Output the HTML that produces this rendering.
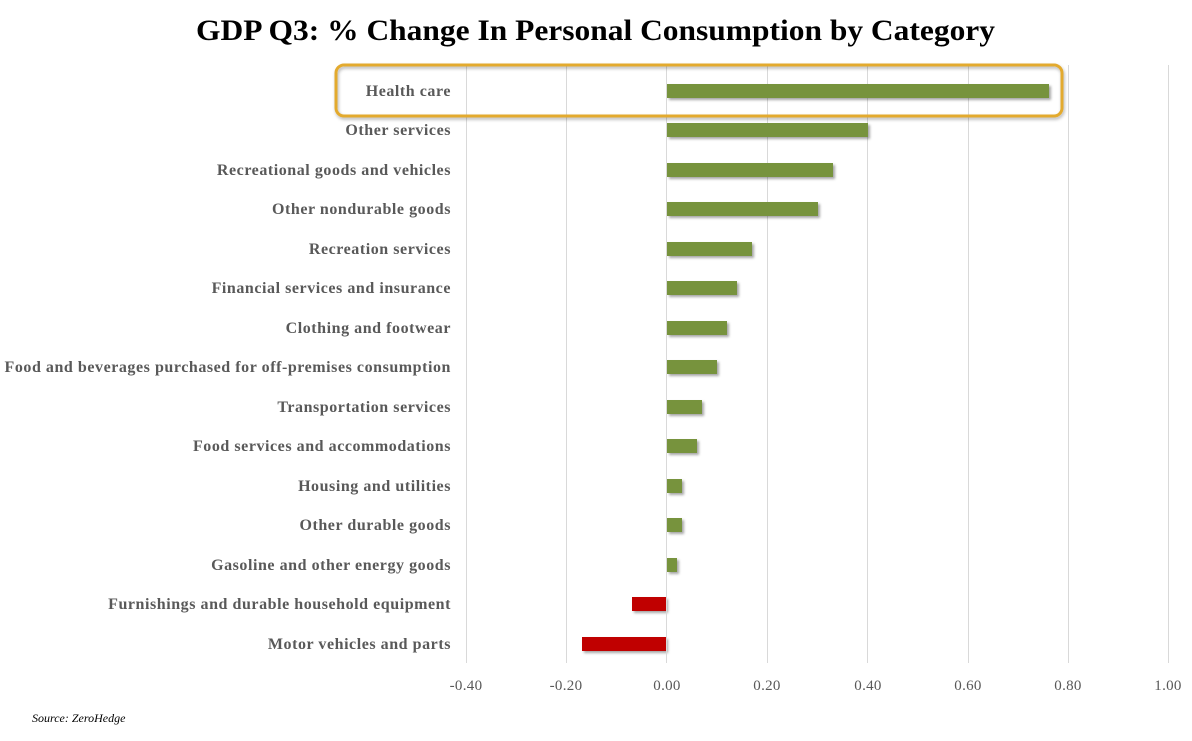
<!DOCTYPE html>
<html><head><meta charset="utf-8"><style>
html,body{margin:0;padding:0;background:#fff;width:1192px;height:741px;overflow:hidden}
text{font-family:"Liberation Serif",serif}
</style></head><body>
<svg width="1192" height="741" xmlns="http://www.w3.org/2000/svg">
<defs><filter id="sh" x="-10%" y="-30%" width="130%" height="180%"><feDropShadow dx="2" dy="2" stdDeviation="1.2" flood-color="#000" flood-opacity="0.35"/></filter>
<filter id="sh2" x="-5%" y="-20%" width="110%" height="150%"><feDropShadow dx="1" dy="2" stdDeviation="1.5" flood-color="#000" flood-opacity="0.3"/></filter></defs>
<text x="196" y="40" textLength="799" lengthAdjust="spacingAndGlyphs" font-size="30" font-weight="bold" fill="#000">GDP Q3: % Change In Personal Consumption by Category</text>
<g stroke="#d9d9d9" stroke-width="1">
<line x1="466.5" y1="65" x2="466.5" y2="663"/><line x1="566.5" y1="65" x2="566.5" y2="663"/>
<line x1="767.5" y1="65" x2="767.5" y2="663"/><line x1="867.5" y1="65" x2="867.5" y2="663"/>
<line x1="968.5" y1="65" x2="968.5" y2="663"/><line x1="1068.5" y1="65" x2="1068.5" y2="663"/>
<line x1="1168.5" y1="65" x2="1168.5" y2="663"/>
</g>
<g font-size="15" fill="#595959" text-anchor="middle" letter-spacing="0.3">
<text x="466" y="690">-0.40</text><text x="566" y="690">-0.20</text><text x="667" y="690">0.00</text>
<text x="767" y="690">0.20</text><text x="868" y="690">0.40</text><text x="968" y="690">0.60</text>
<text x="1068" y="690">0.80</text><text x="1168" y="690">1.00</text>
</g>
<g filter="url(#sh)">
<rect x="667" y="84" width="382" height="14" fill="#77933c"/>
<rect x="667" y="123" width="201" height="14" fill="#77933c"/>
<rect x="667" y="163" width="166" height="14" fill="#77933c"/>
<rect x="667" y="202" width="151" height="14" fill="#77933c"/>
<rect x="667" y="242" width="85" height="14" fill="#77933c"/>
<rect x="667" y="281" width="70" height="14" fill="#77933c"/>
<rect x="667" y="321" width="60" height="14" fill="#77933c"/>
<rect x="667" y="360" width="50" height="14" fill="#77933c"/>
<rect x="667" y="400" width="35" height="14" fill="#77933c"/>
<rect x="667" y="439" width="30" height="14" fill="#77933c"/>
<rect x="667" y="479" width="15" height="14" fill="#77933c"/>
<rect x="667" y="518" width="15" height="14" fill="#77933c"/>
<rect x="667" y="558" width="10" height="14" fill="#77933c"/>
<rect x="632" y="597" width="34" height="14" fill="#c00000"/>
<rect x="582" y="637" width="84" height="14" fill="#c00000"/>
</g>
<line x1="666.5" y1="65" x2="666.5" y2="663" stroke="#d9d9d9"/>
<g font-size="16" font-weight="bold" fill="#595959" text-anchor="end" letter-spacing="0.55">
<text x="451" y="96">Health care</text>
<text x="451" y="135">Other services</text>
<text x="451" y="175">Recreational goods and vehicles</text>
<text x="451" y="214">Other nondurable goods</text>
<text x="451" y="254">Recreation services</text>
<text x="451" y="293">Financial services and insurance</text>
<text x="451" y="333">Clothing and footwear</text>
<text x="451" y="372">Food and beverages purchased for off-premises consumption</text>
<text x="451" y="412">Transportation services</text>
<text x="451" y="451">Food services and accommodations</text>
<text x="451" y="491">Housing and utilities</text>
<text x="451" y="530">Other durable goods</text>
<text x="451" y="570">Gasoline and other energy goods</text>
<text x="451" y="609">Furnishings and durable household equipment</text>
<text x="451" y="649">Motor vehicles and parts</text>
</g>
<rect x="336" y="65" width="726" height="51" rx="8" fill="none" stroke="#e3aa2e" stroke-width="3" filter="url(#sh2)"/>
<text x="32" y="722" font-size="12" font-style="italic" fill="#000">Source: ZeroHedge</text>
</svg>
</body></html>
